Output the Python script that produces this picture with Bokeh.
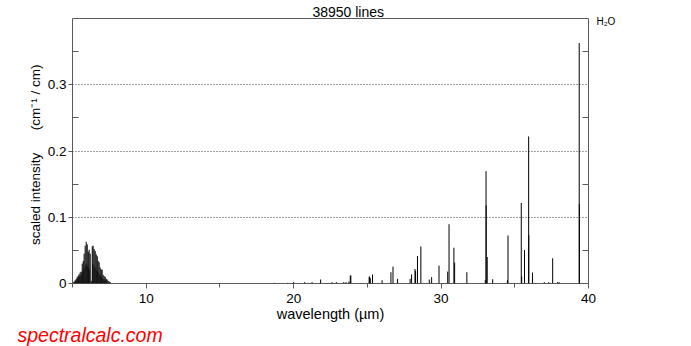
from bokeh.plotting import figure
from bokeh.models import (ColumnDataSource, FixedTicker, LinearAxis, Title,
                          Range1d)
from bokeh.embed import file_html
from bokeh.resources import INLINE

# ---------------- data ----------------
title_text = "38950 lines"
molecule = "H\u2082O"
x_label = "wavelength (\u00b5m)"
y_label = "scaled intensity" + "\u00a0" * 6 + "(cm\u207b\u00b9 / cm)" + "\u00a0" * 2
logo = "spectralcalc.com"

x_major = [10, 20, 30, 40]
x_minor = [5, 15, 25, 35]
y_major = [0, 0.1, 0.2, 0.3]
y_minor = [0.05, 0.15, 0.25, 0.35]
y_tick_labels = {0: "0", 0.1: "0.1", 0.2: "0.2", 0.3: "0.3"}
title_pos = 23.7      # x (µm) under the centre of the title
molecule_pos = 0.395  # y level of the molecule tag

# nu2 band cluster (main lines)
band_wl = [5.05, 5.12, 5.18, 5.25, 5.32, 5.39, 5.45, 5.52, 5.59, 5.66,
           5.73, 5.79, 5.86, 5.93, 6.00, 6.07, 6.13, 6.20, 6.27, 6.34,
           6.40, 6.47, 6.54, 6.61, 6.68, 6.74, 6.81, 6.88, 6.95, 7.01,
           7.08, 7.15, 7.22, 7.29, 7.35, 7.42, 7.49, 7.56]
band_int = [0.002, 0.003, 0.005, 0.007, 0.010, 0.012, 0.014, 0.017, 0.018, 0.030,
            0.034, 0.045, 0.057, 0.063, 0.059, 0.048, 0.051, 0.045, 0.004, 0.056,
            0.057, 0.052, 0.049, 0.044, 0.041, 0.034, 0.032, 0.024, 0.021, 0.021,
            0.013, 0.011, 0.010, 0.007, 0.006, 0.004, 0.003, 0.002]
# nu2 band cluster (weaker lines in between)
band2_wl = [5.22, 5.29, 5.36, 5.42, 5.49, 5.56, 5.62, 5.69, 5.76, 5.83,
            5.90, 5.96, 6.03, 6.10, 6.17, 6.37, 6.44, 6.51, 6.58, 6.64,
            6.71, 6.78, 6.85, 6.91, 6.98, 7.05, 7.12, 7.18, 7.25, 7.32]
band2_int = [0.004, 0.006, 0.008, 0.009, 0.011, 0.012, 0.014, 0.018, 0.022, 0.025,
             0.028, 0.030, 0.026, 0.024, 0.020, 0.030, 0.028, 0.025, 0.022, 0.020,
             0.018, 0.016, 0.013, 0.011, 0.009, 0.007, 0.006, 0.005, 0.004, 0.003]
# pure rotational lines
rot_wl = [18.7, 19.6, 20.0, 20.75, 21.25, 21.83, 22.6, 22.9, 23.4, 23.55,
          23.75, 23.84, 23.88, 25.12, 25.15, 25.2, 25.35, 26.0, 26.6, 26.74,
          27.05, 27.9, 28.0, 28.23, 28.27, 28.4, 28.63, 29.2, 29.36, 29.86,
          30.45, 30.54, 30.87, 30.92, 31.75, 33.0, 33.05, 33.06, 33.13, 33.5,
          34.5, 34.54, 35.44, 35.47, 35.66, 35.94, 35.95, 36.2, 37.0, 37.3,
          37.57, 37.9, 38.0, 39.37, 39.38]
rot_int = [0.001, 0.001, 0.002, 0.002, 0.002, 0.006, 0.002, 0.002, 0.002, 0.002,
           0.003, 0.012, 0.012, 0.010, 0.0105, 0.008, 0.0135, 0.005, 0.017, 0.0255,
           0.007, 0.007, 0.0135, 0.022, 0.019, 0.0415, 0.056, 0.006, 0.0095, 0.027,
           0.018, 0.0895, 0.054, 0.0315, 0.017, 0.005, 0.1695, 0.118, 0.040, 0.0065,
           0.005, 0.0725, 0.1215, 0.0105, 0.0505, 0.222, 0.073, 0.0165, 0.002, 0.002,
           0.038, 0.002, 0.002, 0.363, 0.120]

X_MIN, X_MAX = 5, 40
Y_MIN, Y_MAX = 0, 0.4

W, H = 691, 346
FONT = "Liberation Sans"
FRAME = "#5a5a5a"

p = figure(width=W, height=H, output_backend="svg", toolbar_location=None,
           x_range=Range1d(X_MIN, X_MAX), y_range=Range1d(Y_MIN, Y_MAX),
           min_border_left=72, min_border_right=103, min_border_top=17,
           min_border_bottom=63, background_fill_color="white",
           border_fill_color="white")
p.outline_line_color = FRAME
p.outline_line_width = 1

# lines
main_src = ColumnDataSource(dict(x=band_wl + rot_wl,
                                 y0=[0] * (len(band_wl) + len(rot_wl)),
                                 y1=band_int + rot_int))
weak_src = ColumnDataSource(dict(x=band2_wl, y0=[0] * len(band2_wl),
                                 y1=band2_int))
p.segment(x0="x", y0="y0", x1="x", y1="y1", source=weak_src,
          line_color="#666666", line_width=1)
p.segment(x0="x", y0="y0", x1="x", y1="y1", source=main_src,
          line_color="black", line_width=1)

# bottom axis
xa = p.below[0]
xa.ticker = FixedTicker(ticks=x_major, minor_ticks=x_minor)
xa.axis_line_color = None
xa.major_tick_line_color = FRAME
xa.minor_tick_line_color = FRAME
xa.major_tick_in = 0
xa.major_tick_out = 5
xa.minor_tick_in = 0
xa.minor_tick_out = 4
xa.major_label_standoff = 5
xa.major_label_text_font = FONT
xa.major_label_text_font_size = "13.5px"
xa.major_label_text_color = "black"
xa.axis_label = x_label
xa.axis_label_standoff = 0
xa.axis_label_text_font = FONT
xa.axis_label_text_font_size = "14.5px"
xa.axis_label_text_font_style = "normal"
xa.axis_label_text_color = "black"

# left axis
ya = p.left[0]
ya.ticker = FixedTicker(ticks=y_major, minor_ticks=y_minor)
ya.major_label_overrides = y_tick_labels
ya.axis_line_color = None
ya.major_tick_line_color = FRAME
ya.minor_tick_line_color = FRAME
ya.major_tick_in = 0
ya.major_tick_out = 4
ya.minor_tick_in = 6
ya.minor_tick_out = 0
ya.major_label_standoff = 2
ya.major_label_text_font = FONT
ya.major_label_text_font_size = "13.5px"
ya.major_label_text_color = "black"
ya.axis_label = y_label
ya.axis_label_standoff = 2
ya.axis_label_text_font = FONT
ya.axis_label_text_font_size = "13.5px"
ya.axis_label_text_font_style = "normal"
ya.axis_label_text_color = "black"

# right axis: inward minor ticks and the molecule tag
ra = LinearAxis(ticker=FixedTicker(ticks=[molecule_pos], minor_ticks=y_minor))
ra.major_label_overrides = {molecule_pos: molecule}
ra.axis_line_color = None
ra.major_tick_line_color = None
ra.major_tick_in = 0
ra.major_tick_out = 0
ra.minor_tick_line_color = FRAME
ra.minor_tick_in = 6
ra.minor_tick_out = 0
ra.major_label_standoff = 8
ra.major_label_text_font = FONT
ra.major_label_text_font_size = "10px"
ra.major_label_text_color = "black"
p.add_layout(ra, "right")

# top axis: carries the title text
ta = LinearAxis(ticker=FixedTicker(ticks=[title_pos], minor_ticks=[]))
ta.major_label_overrides = {title_pos: title_text}
ta.axis_line_color = None
ta.major_tick_line_color = None
ta.minor_tick_line_color = None
ta.major_tick_in = 0
ta.major_tick_out = 0
ta.minor_tick_in = 0
ta.minor_tick_out = 0
ta.major_label_standoff = -1
ta.major_label_text_font = FONT
ta.major_label_text_font_size = "14px"
ta.major_label_text_color = "black"
p.add_layout(ta, "above")

# grid
p.xgrid.grid_line_color = None
p.ygrid.ticker = FixedTicker(ticks=[0.1, 0.2, 0.3])
p.ygrid.grid_line_color = "#444444"
p.ygrid.grid_line_dash = "1 2"
p.ygrid.grid_line_width = 1

# logo below the x axis
p.add_layout(Title(text=logo, align="left", offset=-55, standoff=-6,
                   text_font=FONT, text_font_size="19.5px",
                   text_font_style="italic", text_color="#ff0000"), "below")

with open("out.html", "w") as f:
    f.write(file_html(p, INLINE))
